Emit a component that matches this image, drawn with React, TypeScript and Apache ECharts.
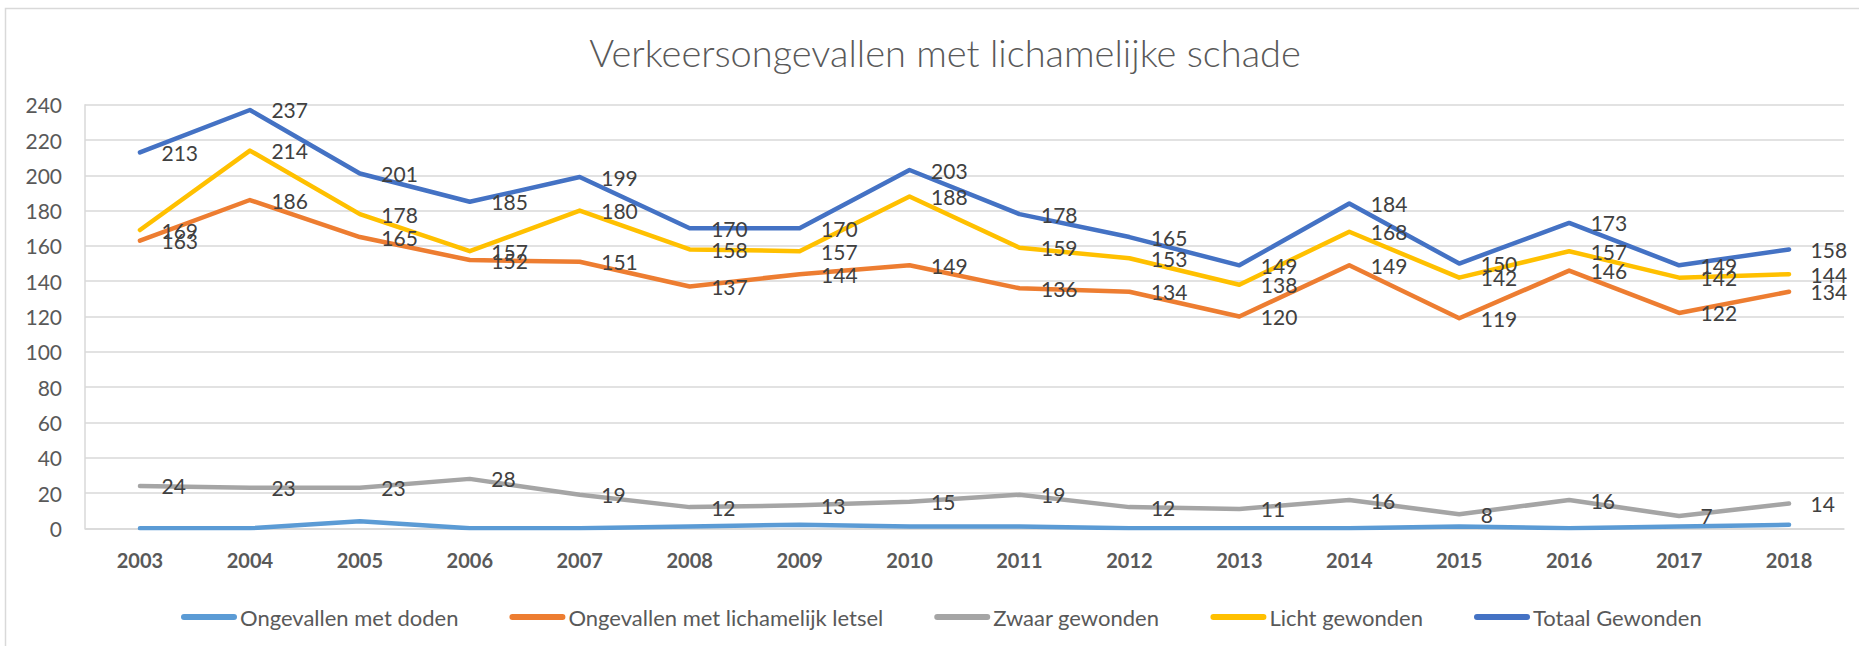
import React, { useEffect, useRef } from "react";
import * as echarts from "echarts";

const years = ["2003","2004","2005","2006","2007","2008","2009","2010","2011","2012","2013","2014","2015","2016","2017","2018"];
const doden = [0, 0, 4, 0, 0, 1, 2, 1, 1, 0, 0, 0, 1, 0, 1, 2];
const letsel = [163, 186, 165, 152, 151, 137, 144, 149, 136, 134, 120, 149, 119, 146, 122, 134];
const zwaar = [24, 23, 23, 28, 19, 12, 13, 15, 19, 12, 11, 16, 8, 16, 7, 14];
const licht = [169, 214, 178, 157, 180, 158, 157, 188, 159, 153, 138, 168, 142, 157, 142, 144];
const totaal = [213, 237, 201, 185, 199, 170, 170, 203, 178, 165, 149, 184, 150, 173, 149, 158];

const seriesNames = [
  "Ongevallen met doden",
  "Ongevallen met lichamelijk letsel",
  "Zwaar gewonden",
  "Licht gewonden",
  "Totaal Gewonden",
];
const seriesColors = ["#5B9BD5", "#ED7D31", "#A5A5A5", "#FFC000", "#4472C4"];
const seriesData = [doden, letsel, zwaar, licht, totaal];
const seriesLabels = [false, true, true, true, true];

const FONT = "Lato, 'Open Sans', sans-serif";

export default function App() {
  const ref = useRef<HTMLDivElement>(null);
  useEffect(() => {
    if (!ref.current) return;
    const chart = echarts.init(ref.current, null, { renderer: "svg" });
    chart.setOption({
      animation: false,
      backgroundColor: "#ffffff",
      textStyle: { fontFamily: FONT },
      title: {
        text: "Verkeersongevallen met lichamelijke schade",
        left: 940,
        top: 28,
        textAlign: "center",
        textStyle: { fontFamily: FONT, fontWeight: 300, fontSize: 38, color: "#595959" },
      },
      graphic: [
        {
          type: "rect",
          shape: { x: 5.5, y: 8.5, width: 1900, height: 700 },
          style: { fill: "none", stroke: "#D9D9D9", lineWidth: 1.5 },
          silent: true,
        },
      ],
      legend: {
        left: 176,
        top: 601,
        itemWidth: 56,
        itemHeight: 6,
        itemGap: 51,
        icon: "path://M3,0 L53,0 A3,3 0 0 1 53,6 L3,6 A3,3 0 0 1 3,0 Z",
        textStyle: { fontFamily: FONT, fontSize: 22, color: "#595959", padding: [0, 0, 0, -2] },
        data: seriesNames,
      },
      grid: { left: 85, right: 15, top: 104.7, bottom: 117.7, containLabel: false },
      xAxis: {
        type: "category",
        data: years,
        boundaryGap: true,
        axisLine: { show: true, lineStyle: { color: "#D9D9D9", width: 1.5 } },
        axisTick: { show: false },
        axisLabel: { fontFamily: FONT, fontWeight: "bold", fontSize: 20, color: "#595959", margin: 22 },
      },
      yAxis: {
        type: "value",
        min: 0,
        max: 240,
        interval: 20,
        axisLine: { show: true, lineStyle: { color: "#D9D9D9", width: 1.5 } },
        axisTick: { show: false },
        splitLine: { show: true, lineStyle: { color: "#D9D9D9", width: 1.5 } },
        axisLabel: { fontFamily: FONT, fontSize: 21, color: "#595959", margin: 23 },
      },
      series: seriesNames.map((name, i) => ({
        name,
        type: "line",
        data: seriesData[i],
        symbol: "circle",
        symbolSize: 1,
        showSymbol: true,
        color: seriesColors[i],
        itemStyle: { color: seriesColors[i] },
        lineStyle: { width: 4.5, color: seriesColors[i], cap: "round", join: "round" },
        label: {
          show: seriesLabels[i],
          position: "right",
          distance: 21,
          fontFamily: FONT,
          fontSize: 21,
          color: "#404040",
        },
        emphasis: { disabled: true },
      })),
    });
    return () => chart.dispose();
  }, []);
  return (
    <div
      ref={ref}
      style={{ position: "absolute", left: 0, top: 0, width: 1859, height: 646 }}
    />
  );
}
